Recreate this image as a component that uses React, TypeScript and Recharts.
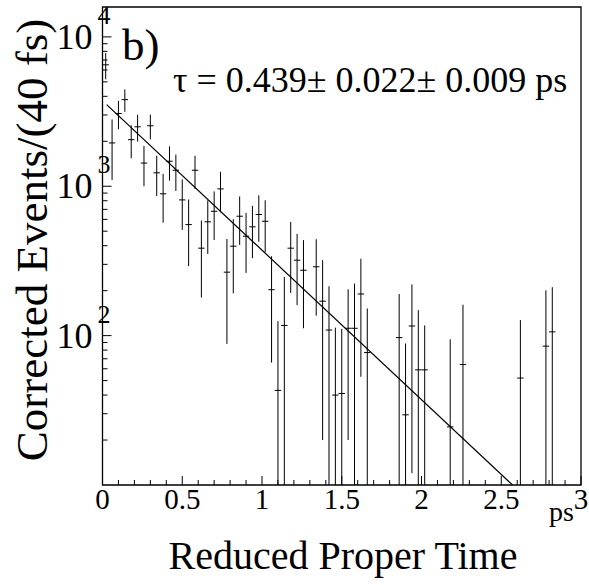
import React from 'react';
import { ScatterChart, Scatter, XAxis, YAxis, ErrorBar, ReferenceArea } from 'recharts';

// bin centres (ps), 40 fs bins; empty bins are left out
const binT = [
  0.02, 0.06, 0.10, 0.14, 0.18, 0.22, 0.26, 0.30, 0.34, 0.38,
  0.42, 0.46, 0.50, 0.54, 0.58, 0.62, 0.66, 0.70, 0.74, 0.78,
  0.82, 0.86, 0.90, 0.94, 0.98, 1.02, 1.06, 1.10, 1.14, 1.18,
  1.22, 1.26, 1.34, 1.38, 1.42, 1.46, 1.50, 1.54, 1.58, 1.62,
  1.66, 1.86, 1.90, 1.94, 1.98, 2.02, 2.18, 2.26, 2.62, 2.78,
  2.82,
];
const counts = [
  6500, 1950, 3070, 3800, 2050, 2500, 1430, 2540, 1230, 890,
  1470, 1280, 810, 554, 1280, 385, 578, 680, 960, 266,
  397, 630, 463, 535, 647, 583, 203, 43, 117, 385,
  320, 274, 289, 170, 109, 40, 41, 112, 112, 190,
  77, 97, 29.5, 116, 59, 59, 24.5, 64, 52, 85,
  106,
];
const errs = [
  1300, 850, 660, 650, 510, 510, 430, 480, 370, 320,
  380, 350, 300, 262, 320, 205, 226, 243, 290, 178,
  205, 225, 200, 205, 222, 222, 137, 82, 130, 192,
  160, 162, 153, 150, 105, 73, 70, 92, 111, 137,
  75, 93, 59, 104, 89, 58, 70, 97, 75, 116,
  105,
];
const binHalf = 0.02;

// exponential fit, straight on the log axis
const fitT = [0.026, 2.571];
const fitN = [3520, 10];

const yMin = 10;
const yMax = 15849;
const yTicks = [
  20, 30, 40, 50, 60, 70, 80, 90, 100,
  200, 300, 400, 500, 600, 700, 800, 900, 1000,
  2000, 3000, 4000, 5000, 6000, 7000, 8000, 9000, 10000,
];
const yMajor = [100, 1000, 10000];
const yMajorExp = ['2', '3', '4'];

const xTicks = [
  0, 0.1, 0.2, 0.3, 0.4, 0.5, 0.6, 0.7, 0.8, 0.9,
  1, 1.1, 1.2, 1.3, 1.4, 1.5, 1.6, 1.7, 1.8, 1.9,
  2, 2.1, 2.2, 2.3, 2.4, 2.5, 2.6, 2.7, 2.8, 2.9, 3,
];
const xMajor = [0, 0.5, 1, 1.5, 2, 2.5, 3];
const xMajorLabels = ['0', '0.5', '1', '1.5', '2', '2.5', '3'];

const points = binT.map((t, i) => ({
  t,
  n: counts[i],
  ey: [counts[i] - Math.max(counts[i] - errs[i], yMin), errs[i]],
  ex: binHalf,
}));
const fit = fitT.map((t, i) => ({ t, n: fitN[i] }));

const serif = { fontFamily: "'Liberation Serif', 'Times New Roman', serif" };

const XTick = (props: any) => {
  const { x, y, payload } = props;
  const idx = xMajor.findIndex((v) => Math.abs(v - payload.value) < 1e-6);
  const major = idx >= 0;
  return (
    <g>
      <line x1={x} y1={y} x2={x} y2={y - (major ? 9 : 5)} stroke="#000" strokeWidth={1} />
      {major && (
        <text x={x} y={y + 24} textAnchor="middle" fontSize={29} fill="#000" style={serif}>
          {xMajorLabels[idx]}
        </text>
      )}
    </g>
  );
};

const YTick = (props: any) => {
  const { x, y, payload } = props;
  const idx = yMajor.indexOf(payload.value);
  const major = idx >= 0;
  return (
    <g>
      <line x1={x} y1={y} x2={x + (major ? 9 : 5)} y2={y} stroke="#000" strokeWidth={1} />
      {major && (
        <g fill="#000" style={serif}>
          <text x={x - 10} y={y + 12} textAnchor="end" fontSize={36} style={serif}>10</text>
          <text x={x - 5} y={y - 13} textAnchor="start" fontSize={26} style={serif}>{yMajorExp[idx]}</text>
        </g>
      )}
    </g>
  );
};

export default function App() {
  return (
    <div style={{ position: 'absolute', left: 0, top: 0, width: 589, height: 585, background: '#fff', ...serif }}>
      <ScatterChart
        width={589}
        height={585}
        margin={{ top: 7, right: 8, bottom: 0, left: 0 }}
        style={serif}
      >
        <XAxis
          type="number"
          dataKey="t"
          domain={[0, 3]}
          ticks={xTicks}
          interval={0}
          allowDataOverflow
          height={100}
          tickSize={0}
          tickMargin={0}
          axisLine={false}
          tickLine={false}
          tick={<XTick />}
        />
        <YAxis
          type="number"
          dataKey="n"
          scale="log"
          domain={[yMin, yMax]}
          ticks={yTicks}
          interval={0}
          allowDataOverflow
          width={102.5}
          tickSize={0}
          tickMargin={0}
          axisLine={false}
          tickLine={false}
          tick={<YTick />}
        />
        <ReferenceArea x1={0} x2={3} y1={yMin} y2={yMax} fill="none" stroke="#000" strokeWidth={1.3} fillOpacity={0} />
        <Scatter
          data={fit}
          line={{ stroke: '#000', strokeWidth: 1.2 }}
          lineType="joint"
          shape={() => <g />}
          isAnimationActive={false}
        />
        <Scatter data={points} shape={() => <g />} isAnimationActive={false}>
          <ErrorBar dataKey="ey" direction="y" width={0} stroke="#000" strokeWidth={1} isAnimationActive={false} />
          <ErrorBar dataKey="ex" direction="x" width={0} stroke="#000" strokeWidth={1} isAnimationActive={false} />
        </Scatter>
        <text x={122} y={60} fontSize={45} fill="#000" style={serif}>b)</text>
        <text x={173} y={92} fontSize={36} fill="#000" style={serif}>
          τ = 0.439± 0.022± 0.009 ps
        </text>
        <text x={549} y={521} fontSize={28} fill="#000" style={serif}>ps</text>
        <text x={343} y={569} fontSize={40} textAnchor="middle" fill="#000" style={serif}>
          Reduced Proper Time
        </text>
        <text
          x={0}
          y={0}
          transform="translate(47, 240) rotate(-90)"
          fontSize={45}
          textAnchor="middle"
          fill="#000"
          style={serif}
        >
          Corrected Events/(40 fs)
        </text>
      </ScatterChart>
    </div>
  );
}
